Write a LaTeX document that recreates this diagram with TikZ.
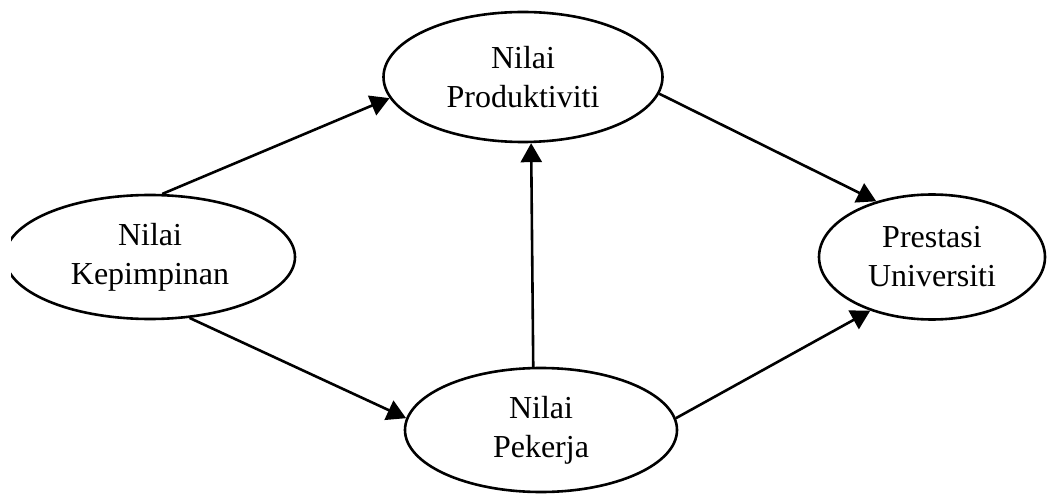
\documentclass[tikz,border=0pt]{standalone}
\usepackage{fontspec}
\setmainfont{Liberation Serif}
\usetikzlibrary{shapes.geometric,arrows.meta}
\begin{document}
\begin{tikzpicture}[x=1pt,y=1pt,
  oval/.style={ellipse,draw,line width=2.6pt,inner sep=0pt,align=center,
    font=\fontsize{32}{39}\selectfont},
  conn/.style={line width=2.6pt,-{Triangle[length=19pt,width=21pt]}}]
\useasboundingbox (0,0) rectangle (1057,496);
\fill[white] (0,0) rectangle (1057,496);
\begin{scope}
\clip (11,0) rectangle (1057,496);
\node[oval,minimum width=290pt,minimum height=124pt] (K) at (150,239) {Nilai\\Kepimpinan};
\node[oval,minimum width=279pt,minimum height=130pt] (P) at (523,419) {Nilai\\Produktiviti};
\node[oval,minimum width=272pt,minimum height=124pt] (W) at (541,66) {Nilai\\Pekerja};
\node[oval,minimum width=226pt,minimum height=125pt] (U) at (932,239) {Prestasi\\Universiti};
\draw[conn] (K.79) -- (P.189);
\draw[conn] (P.353) -- (U.135);
\draw[conn] (W.97.5) -- (P.277.5);
\draw[conn] (K.303) -- (W.175);
\draw[conn] (W.5) -- (U.221.6);
\end{scope}
\end{tikzpicture}
\end{document}
